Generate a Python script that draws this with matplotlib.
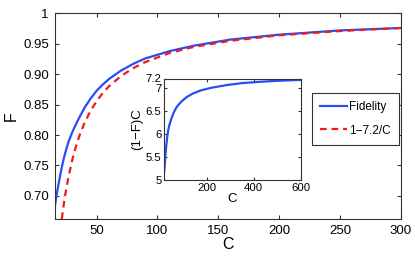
import matplotlib
matplotlib.use('Agg')
import matplotlib.pyplot as plt

plt.rcParams['font.family'] = ['Liberation Sans', 'DejaVu Sans']

# fidelity curve
c_fid = [15.5, 16.5, 17.5, 18.5, 20, 21.5, 23, 25, 27, 30, 33, 36, 40, 45, 50, 55,
         60, 70, 80, 90, 110, 130, 160, 200, 250, 300]
fidelity = [0.681, 0.695, 0.707, 0.718, 0.734, 0.749, 0.762, 0.777, 0.790, 0.805,
            0.818, 0.830, 0.845, 0.860, 0.873, 0.883, 0.892, 0.906, 0.917, 0.926,
            0.938, 0.947, 0.957, 0.965, 0.972, 0.976]

# dashed reference curve 1-7.2/C
c_ref = [21.3, 22, 23, 24, 25, 27, 30, 33, 36, 40, 45, 50, 55, 60, 70, 80, 90,
         110, 130, 160, 200, 250, 300]
ref = [0.662, 0.673, 0.687, 0.700, 0.712, 0.733, 0.760, 0.782, 0.800, 0.820,
       0.840, 0.856, 0.869, 0.880, 0.897, 0.910, 0.920, 0.935, 0.945, 0.955,
       0.964, 0.971, 0.976]

# inset: (1-F)C
c_ins = [20, 22, 25, 28, 32, 36, 40, 45, 50, 60, 70, 80, 95, 116, 140, 174, 220,
         289, 350, 432, 500, 600]
one_minus_f_c = [5.20, 5.35, 5.55, 5.72, 5.92, 6.06, 6.16, 6.25, 6.33, 6.46, 6.56,
                 6.63, 6.71, 6.80, 6.87, 6.94, 7.00, 7.06, 7.10, 7.13, 7.15, 7.17]

blue = '#2a4cf5'
red = '#f21a1a'
edge = '#333333'

fig = plt.figure(figsize=(4.15, 2.57), dpi=100)
ax = fig.add_axes([54.5/415, 1 - 219/257, (400.7-54.5)/415, (219-13.4)/257])
ax.plot(c_fid, fidelity, color=blue, lw=1.6, label='Fidelity')
ax.plot(c_ref, ref, color=red, lw=1.6, ls=(0, (3, 2.2)), label='1\u22127.2/C')
ax.set_xlim(15.3, 300)
ax.set_ylim(0.662, 1.0)
ax.set_xticks([50, 100, 150, 200, 250, 300])
ax.set_yticks([0.70, 0.75, 0.80, 0.85, 0.90, 0.95, 1.0])
ax.set_yticklabels(['0.70', '0.75', '0.80', '0.85', '0.90', '0.95', '1'])
ax.tick_params(direction='in', top=True, right=True, labelsize=9.5, length=3,
               color=edge, pad=4)
for s in ax.spines.values():
    s.set_color(edge)
    s.set_linewidth(0.8)
ax.set_xlabel('C', fontsize=11.5, labelpad=0)
ax.set_ylabel('F', fontsize=11.5, labelpad=3)

leg = ax.legend(loc='upper left', bbox_to_anchor=(311.7/415, 1 - 92.5/257),
                bbox_transform=fig.transFigure, fontsize=8.5, handlelength=2.3,
                labelspacing=1.0, borderpad=0.7, handletextpad=0.15,
                borderaxespad=0, fancybox=False, framealpha=1)
leg.get_frame().set_edgecolor(edge)
leg.get_frame().set_linewidth(0.8)

ins = fig.add_axes([164.3/415, 1 - 180/257, (300.7-164.3)/415, (180-78.5)/257])
ins.plot(c_ins, one_minus_f_c, color=blue, lw=1.6)
ins.set_xlim(20, 600)
ins.set_ylim(5, 7.2)
ins.set_xticks([200, 400, 600])
ins.set_yticks([5, 5.5, 6, 6.5, 7, 7.2])
ins.set_yticklabels(['5', '5.5', '6', '6.5', '7', '7.2'])
ins.tick_params(direction='in', top=True, right=True, labelsize=8.2, length=2.5,
               color=edge, pad=2)
for s in ins.spines.values():
    s.set_color(edge)
    s.set_linewidth(0.8)
ins.set_xlabel('C', fontsize=9.5, labelpad=0)
ins.set_ylabel('(1\u2212F)C', fontsize=9.5, labelpad=2)

fig.savefig('out.png', dpi=100)
